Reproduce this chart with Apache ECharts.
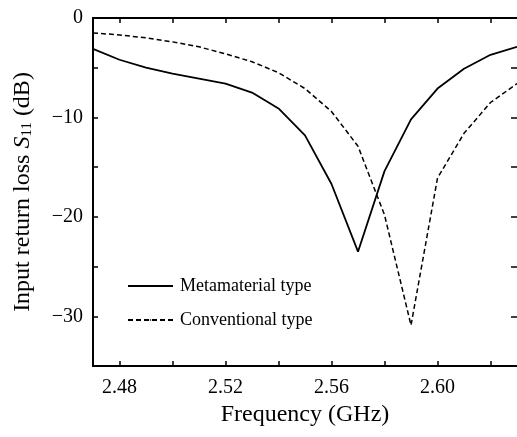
<!DOCTYPE html>
<html>
<head>
<meta charset="utf-8">
<script src="https://cdn.jsdelivr.net/npm/echarts@6/dist/echarts.min.js"></script>
<style>
  html, body { margin: 0; padding: 0; background: #fff; }
  #chart { width: 517px; height: 437px; }
</style>
</head>
<body>
<div id="chart"></div>
<script>
// 频率 (GHz)
const freq = [2.47, 2.48, 2.49, 2.50, 2.51, 2.52, 2.53, 2.54, 2.55, 2.56, 2.57, 2.58, 2.59, 2.60, 2.61, 2.62, 2.63];
// S11 (dB)
const metaS11 = [-3.1, -4.2, -5.0, -5.6, -6.1, -6.6, -7.5, -9.1, -11.8, -16.7, -23.5, -15.4, -10.2, -7.1, -5.1, -3.7, -2.9];
const convS11 = [-1.5, -1.7, -2.0, -2.4, -2.9, -3.6, -4.4, -5.5, -7.1, -9.4, -12.9, -19.8, -30.9, -16.1, -11.6, -8.5, -6.6];
const seriesNames = ['Metamaterial type', 'Conventional type'];
// 刻度
const xTicks = [2.48, 2.50, 2.52, 2.54, 2.56, 2.58, 2.60, 2.62];
const xLabels = [2.48, 2.52, 2.56, 2.60];

const font = 'Liberation Serif';
const chart = echarts.init(document.getElementById('chart'));

const pairs = (ys) => freq.map((f, i) => [f, ys[i]]);

const xBase = {
  type: 'value',
  min: 2.47,
  max: 2.63,
  splitLine: { show: false },
  axisLine: { onZero: false, lineStyle: { color: '#000', width: 2 } },
  axisTick: { inside: true, length: 5, customValues: xTicks, lineStyle: { color: '#000', width: 1.5 } }
};
const yBase = {
  type: 'value',
  min: -35,
  max: 0,
  interval: 5,
  splitLine: { show: false },
  axisLine: { onZero: false, lineStyle: { color: '#000', width: 2 } },
  axisTick: { inside: true, length: 5, lineStyle: { color: '#000', width: 1.5 } }
};

chart.setOption({
  animation: false,
  grid: { left: 93, right: -2, top: 18, bottom: 71 },
  legend: {
    orient: 'vertical',
    left: 127,
    top: 277,
    padding: 0,
    itemWidth: 45,
    itemHeight: 2,
    itemGap: 16,
    textStyle: { fontFamily: font, fontSize: 18, color: '#000', padding: [0, 0, 0, 2] },
    data: seriesNames
  },
  xAxis: [
    Object.assign({}, xBase, {
      position: 'bottom',
      name: 'Frequency (GHz)',
      nameLocation: 'middle',
      nameGap: 37,
      nameTextStyle: { fontFamily: font, fontSize: 24, color: '#000' },
      axisLabel: {
        customValues: xLabels,
        margin: 12,
        fontFamily: font,
        fontSize: 20,
        color: '#000',
        formatter: v => v.toFixed(2)
      }
    }),
    Object.assign({}, xBase, { position: 'top', axisLabel: { show: false } })
  ],
  yAxis: [
    Object.assign({}, yBase, {
      position: 'left',
      name: 'Input return loss {i|S}{sub|11} (dB)',
      nameLocation: 'middle',
      nameGap: 58,
      nameTextStyle: {
        fontFamily: font, fontSize: 24, color: '#000', lineHeight: 25,
        rich: {
          i: { fontFamily: font, fontSize: 24, fontStyle: 'italic', color: '#000', lineHeight: 25 },
          sub: { fontFamily: font, fontSize: 15, color: '#000', verticalAlign: 'bottom', lineHeight: 15 }
        }
      },
      axisLabel: {
        margin: 10,
        fontFamily: font,
        fontSize: 20,
        color: '#000',
        formatter: v => (v % 10 === 0 ? String(v).replace('-', '\u2212') : '')
      }
    }),
    // 右侧轴线在画面外，只留刻度
    Object.assign({}, yBase, {
      position: 'right',
      axisLine: { show: false, onZero: false },
      axisTick: { inside: true, length: 6, lineStyle: { color: '#000', width: 1.5 } },
      axisLabel: { show: false }
    })
  ],
  series: [
    {
      name: seriesNames[0],
      type: 'line',
      data: pairs(metaS11),
      symbol: 'none',
      itemStyle: { color: '#000' },
      lineStyle: { color: '#000', width: 1.8, type: 'solid' }
    },
    {
      name: seriesNames[1],
      type: 'line',
      data: pairs(convS11),
      symbol: 'none',
      itemStyle: { color: '#000' },
      lineStyle: { color: '#000', width: 1.5, type: [5, 3] }
    }
  ]
});
</script>
</body>
</html>
